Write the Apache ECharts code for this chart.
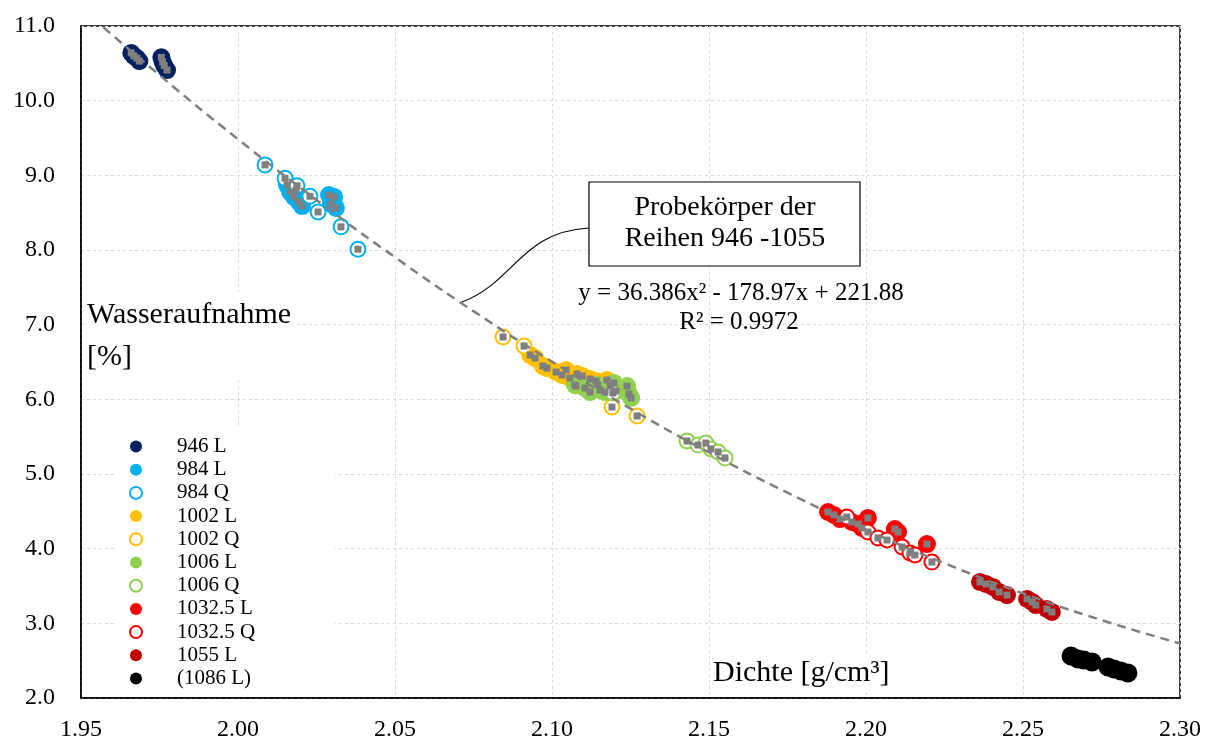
<!DOCTYPE html>
<html>
<head>
<meta charset="utf-8">
<script src="https://cdn.jsdelivr.net/npm/echarts@6/dist/echarts.min.js"></script>
<style>
  html, body { margin: 0; padding: 0; background: #fff; }
  #chart { width: 1206px; height: 742px; }
</style>
</head>
<body>
<div id="chart"></div>
<script>
const serif = '"Liberation Serif", "DejaVu Serif", serif'

// Messpunkte: [Dichte g/cm³, Wasseraufnahme %]
const s946L = [[1.9660, 10.64], [1.9668, 10.60], [1.9678, 10.57], [1.9686, 10.53],
  [1.9756, 10.58], [1.9760, 10.52], [1.9765, 10.47], [1.9774, 10.41]]
const s984L = [[2.0156, 8.870], [2.0166, 8.777], [2.0178, 8.710], [2.0194, 8.643], [2.0204, 8.589],
  [2.0185, 8.803], [2.0290, 8.736], [2.0306, 8.710], [2.0312, 8.563], [2.0296, 8.616]]
const s984Q = [[2.0086, 9.14], [2.0150, 8.96], [2.0188, 8.86], [2.0229, 8.72], [2.0255, 8.51],
  [2.0328, 8.31], [2.0382, 8.01]]
const s1002L = [[2.0930, 6.594], [2.0946, 6.553], [2.0971, 6.446], [2.0984, 6.419], [2.1013, 6.366],
  [2.1032, 6.326], [2.1045, 6.393], [2.1057, 6.286], [2.1080, 6.339], [2.1096, 6.312],
  [2.1121, 6.272], [2.1140, 6.245], [2.1175, 6.259]]
const s1002Q = [[2.0844, 6.835], [2.0911, 6.714], [2.1076, 6.178], [2.1191, 5.897], [2.1271, 5.777]]
const s1006L = [[2.1073, 6.192], [2.1105, 6.152], [2.1121, 6.098], [2.1146, 6.192], [2.1153, 6.125],
  [2.1169, 6.098], [2.1185, 6.178], [2.1197, 6.219], [2.1204, 6.111], [2.1239, 6.178],
  [2.1245, 6.071], [2.1252, 6.018]]
const s1006Q = [[2.1194, 6.085], [2.1430, 5.442], [2.1465, 5.388], [2.1490, 5.415], [2.1506, 5.335],
  [2.1529, 5.295], [2.1551, 5.214]]
const s1032L = [[2.1879, 4.491], [2.1898, 4.451], [2.1917, 4.397], [2.1955, 4.357], [2.1975, 4.330],
  [2.1987, 4.277], [2.2006, 4.411], [2.2092, 4.263], [2.2102, 4.223], [2.2194, 4.062]]
const s1032Q = [[2.1939, 4.424], [2.2006, 4.223], [2.2038, 4.143], [2.2067, 4.116], [2.2115, 4.022],
  [2.2140, 3.942], [2.2156, 3.915], [2.2210, 3.821]]
const s1055L = [[2.2363, 3.554], [2.2382, 3.527], [2.2404, 3.487], [2.2424, 3.420], [2.2449, 3.379],
  [2.2513, 3.326], [2.2529, 3.286], [2.2541, 3.245], [2.2576, 3.192], [2.2592, 3.152]]
const s1086L = [[2.2653, 2.562], [2.2675, 2.522], [2.2694, 2.509], [2.2720, 2.482], [2.2771, 2.415],
  [2.2790, 2.388], [2.2812, 2.362], [2.2834, 2.335]]

// Trendlinie (Polynom 2. Grades)
const trendX = [1.950, 1.975, 2.000, 2.025, 2.050, 2.075, 2.100, 2.125, 2.150, 2.175, 2.200, 2.225, 2.250, 2.275, 2.300]
const trendY = [11.246, 10.342, 9.484, 8.671, 7.903, 7.181, 6.505, 5.875, 5.288, 4.749, 4.254, 3.805, 3.401, 3.043, 2.731]

const groups = [
  { name: '946 L', data: s946L, color: '#002060', hollow: false },
  { name: '984 L', data: s984L, color: '#00B0F0', hollow: false },
  { name: '984 Q', data: s984Q, color: '#00B0F0', hollow: true },
  { name: '1002 L', data: s1002L, color: '#FFC000', hollow: false },
  { name: '1002 Q', data: s1002Q, color: '#FFC000', hollow: true },
  { name: '1006 L', data: s1006L, color: '#92D050', hollow: false },
  { name: '1006 Q', data: s1006Q, color: '#92D050', hollow: true },
  { name: '1032.5 L', data: s1032L, color: '#FF0000', hollow: false },
  { name: '1032.5 Q', data: s1032Q, color: '#FF0000', hollow: true },
  { name: '1055 L', data: s1055L, color: '#C00000', hollow: false },
  { name: '(1086 L)', data: s1086L, color: '#000000', hollow: false }
]

const fitPoints = [].concat(s946L, s984L, s984Q, s1002L, s1002Q, s1006L, s1006Q, s1032L, s1032Q, s1055L)

const scatterSeries = groups.map(g => ({
  name: g.name,
  type: 'scatter',
  data: g.data,
  symbol: 'circle',
  symbolSize: g.hollow ? 15 : (g.name === '(1086 L)' ? 19 : 18),
  itemStyle: g.hollow
    ? { color: '#fff', borderColor: g.color, borderWidth: 2, opacity: 1 }
    : { color: g.color, opacity: 1 },
  emphasis: { disabled: true }
}))

const chart = echarts.init(document.getElementById('chart'))

chart.setOption({
  animation: false,
  backgroundColor: '#fff',
  grid: {
    left: 81, top: 26, right: 26, bottom: 44,
    show: true, borderColor: '#000', borderWidth: 1.5
  },
  xAxis: {
    type: 'value',
    min: 1.95, max: 2.30, interval: 0.05,
    axisLine: { show: true, lineStyle: { color: '#000', width: 1.5 } },
    axisTick: { show: false },
    axisLabel: {
      margin: 20, fontFamily: serif, fontSize: 24, color: '#000',
      formatter: v => v.toFixed(2)
    },
    splitLine: { show: true, lineStyle: { color: '#d9d9d9', type: [3, 3], width: 1 } }
  },
  yAxis: {
    type: 'value',
    min: 2, max: 11, interval: 1,
    axisLine: { show: true, lineStyle: { color: '#000', width: 1.5 } },
    axisTick: { show: false },
    axisLabel: {
      margin: 26, fontFamily: serif, fontSize: 24, color: '#000',
      formatter: v => v.toFixed(1)
    },
    splitLine: { show: true, lineStyle: { color: '#d9d9d9', type: [3, 3], width: 1 } }
  },
  legend: {
    orient: 'vertical',
    left: 115, top: 426,
    padding: [10, 80, 6, 14],
    backgroundColor: '#fff',
    itemWidth: 12, itemHeight: 12, itemGap: 2.2,
    selectedMode: false,
    data: groups.map(g => g.name),
    textStyle: { fontFamily: serif, fontSize: 21, color: '#000', padding: [0, 0, 0, 30] }
  },
  series: [
    ...scatterSeries,
    {
      name: 'Trend',
      type: 'line',
      data: trendX.map((x, i) => [x, trendY[i]]),
      smooth: true,
      showSymbol: false,
      clip: true,
      lineStyle: { color: '#7f7f7f', width: 2.5, type: [9, 6] },
      emphasis: { disabled: true },
      z: 3
    },
    {
      name: 'alle',
      type: 'scatter',
      data: fitPoints,
      symbol: 'rect',
      symbolSize: 7,
      itemStyle: { color: '#7f7f7f', opacity: 1 },
      emphasis: { disabled: true },
      z: 4
    }
  ],
  graphic: [
    {
      type: 'text', left: 85, top: 292, z: 10,
      style: {
        text: 'Wasseraufnahme\n[%]', font: '30px ' + serif, fill: '#000',
        lineHeight: 42, backgroundColor: '#fff', padding: [2, 4, 2, 2]
      }
    },
    {
      type: 'text', left: 711, top: 656, z: 10,
      style: {
        text: 'Dichte [g/cm³]', font: '30px ' + serif, fill: '#000',
        backgroundColor: '#fff', padding: [2, 4, 2, 2]
      }
    },
    {
      type: 'bezierCurve', z: 10,
      shape: { x1: 462, y1: 302, cpx1: 515, cpy1: 282, cpx2: 520, cpy2: 232, x2: 589, y2: 228 },
      style: { stroke: '#000', lineWidth: 1.2, fill: null }
    },
    {
      type: 'rect', z: 10,
      shape: { x: 589, y: 182, width: 271, height: 84 },
      style: { fill: '#fff', stroke: '#000', lineWidth: 1.2 }
    },
    {
      type: 'text', z: 11, x: 725, y: 208,
      style: { text: 'Probekörper der', font: '28px ' + serif, fill: '#000', align: 'center', verticalAlign: 'middle' }
    },
    {
      type: 'text', z: 11, x: 725, y: 239,
      style: { text: 'Reihen 946 -1055', font: '28px ' + serif, fill: '#000', align: 'center', verticalAlign: 'middle' }
    },
    {
      type: 'text', z: 10, x: 741, y: 293,
      style: { text: 'y = 36.386x² - 178.97x + 221.88', font: '25px ' + serif, fill: '#000', align: 'center', verticalAlign: 'middle' }
    },
    {
      type: 'text', z: 10, x: 739, y: 322,
      style: { text: 'R² = 0.9972', font: '25px ' + serif, fill: '#000', align: 'center', verticalAlign: 'middle' }
    }
  ]
})

window.addEventListener('resize', () => chart.resize())
</script>
</body>
</html>
